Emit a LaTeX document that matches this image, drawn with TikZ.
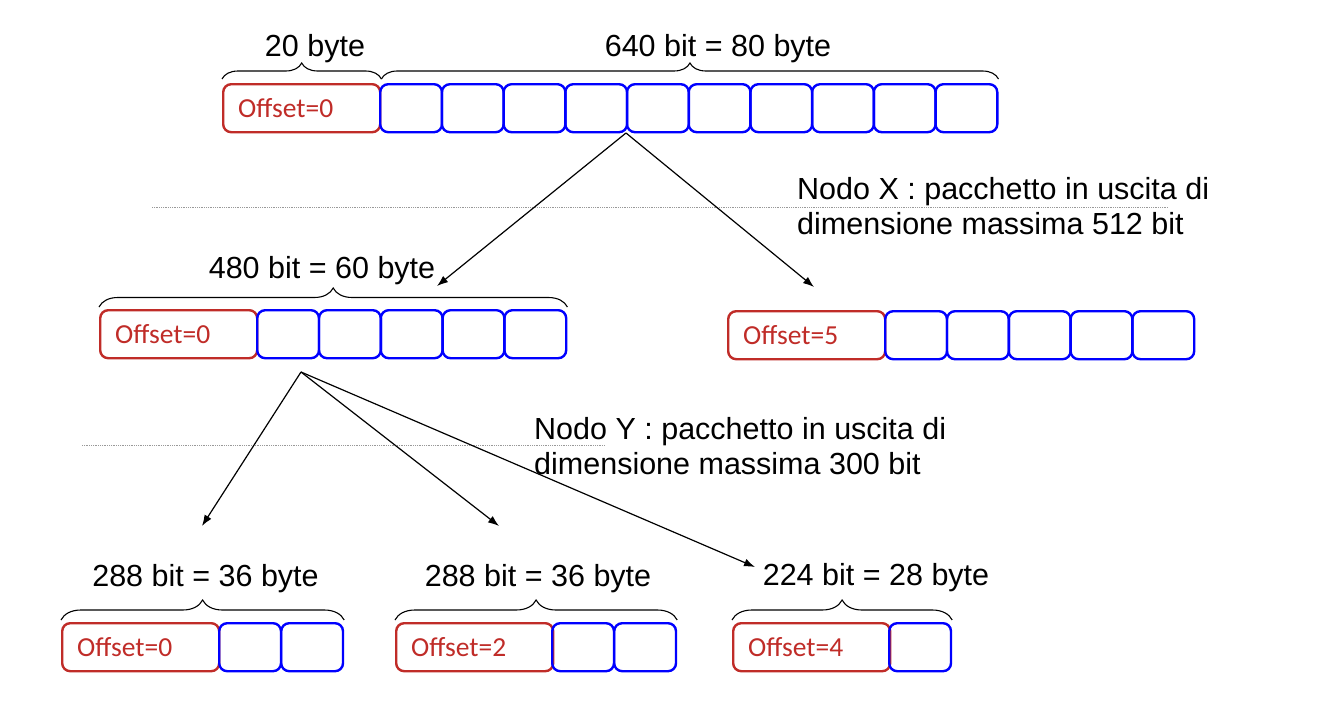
\documentclass[tikz,border=0pt]{standalone}
\usepackage{fontspec}
\setmainfont{Liberation Sans}
\newfontfamily\calib{Carlito}
\usetikzlibrary{decorations.pathreplacing,arrows.meta}
\definecolor{offred}{RGB}{192,44,40}
\definecolor{fragblue}{RGB}{0,0,255}
\tikzset{
 cell/.style={draw, line width=2.4pt, rounded corners=8pt, minimum height=48pt, inner sep=0pt, anchor=north west},
 hdr/.style={cell, draw=offred, minimum width=157pt, text width=127pt, inner xsep=15pt, align=left, text=offred, font=\calib\fontsize{27.5}{30}\selectfont},
 pay/.style={cell, draw=fragblue, minimum width=61.8pt},
 brc/.style={decorate, decoration={brace, amplitude=#1}, line width=1.1pt},
 brc/.default=18pt,
 lbl/.style={font=\fontsize{30.5}{36}\selectfont, anchor=base, inner sep=0pt},
 note/.style={font=\fontsize{30.5}{35}\selectfont, align=left, anchor=base west, inner sep=0pt},
 sep/.style={draw=gray!80, line width=0.9pt, dash pattern=on 0.9pt off 0.9pt},
 arr/.style={-{Latex[length=11pt,width=8pt]}, line width=1.2pt},
}
\begin{document}
\begin{tikzpicture}[x=1pt,y=-1pt]
\fill[white] (0,0) rectangle (1328,712);
\useasboundingbox (0,0) rectangle (1328,712);

% top packet
\node[hdr] (h0) at (222,83) {Offset=0};
\foreach \i in {1,...,10} \node[pay] (p0\i) at ({379+61.7*(\i-1)},83) {};
% middle left
\node[hdr] (h1) at (99,309) {Offset=0};
\foreach \i in {1,...,5} \node[pay] (p1\i) at ({256+61.8*(\i-1)},309) {};
% middle right
\node[hdr] (h2) at (727,310) {Offset=5};
\foreach \i in {1,...,5} \node[pay] (p2\i) at ({884+61.8*(\i-1)},310) {};
% bottom
\node[hdr] (h3) at (61,622) {Offset=0};
\foreach \i in {1,2} \node[pay] (p3\i) at ({218+62*(\i-1)},622) {};
\node[hdr] (h4) at (395,622) {Offset=2};
\foreach \i in {1,2} \node[pay] (p4\i) at ({551+62*(\i-1)},622) {};
\node[hdr] (h5) at (732,622) {Offset=4};
\node[pay] (p51) at (888,622) {};

% braces
\draw[brc=16pt] ([yshift=4pt]h0.north west) -- ([yshift=4pt]h0.north east);
\draw[brc=16pt] ([yshift=4pt]h0.north east) -- ([yshift=4pt]p010.north east);
\draw[brc=19pt] ([yshift=2pt]h1.north west) -- ([yshift=2pt]p15.north east);
\draw[brc=20pt] ([yshift=2pt]h3.north west) -- ([yshift=2pt]p32.north east);
\draw[brc=20pt] ([yshift=2pt]h4.north west) -- ([yshift=2pt]p42.north east);
\draw[brc=20pt] ([yshift=2pt]h5.north west) -- ([yshift=2pt]p51.north east);

% labels
\node[lbl] (l20) at (315,56) {20 byte};
\node[lbl] (l640) at (718,56) {640 bit = 80 byte};
\node[lbl] (l480) at (322,278) {480 bit = 60 byte};
\node[lbl] (l288a) at (205.5,586) {288 bit = 36 byte};
\node[lbl] (l288b) at (538,586) {288 bit = 36 byte};
\node[lbl] (l224) at (876,585) {224 bit = 28 byte};

% separators and notes
\draw[sep] (152,207) -- (1168,207);
\draw[sep] (82,445) -- (605,445);
\node[note] (nx) at (797,234) {Nodo X : pacchetto in uscita di\\dimensione massima 512 bit};
\node[note] (ny) at (534,474) {Nodo Y : pacchetto in uscita di\\dimensione massima 300 bit};

% arrows
\coordinate (o1) at (626,133);
\coordinate (t1) at (437,286);
\coordinate (t2) at (814,287);
\coordinate (o2) at (301,372);
\coordinate (t3) at (202,526);
\coordinate (t4) at (499,526);
\coordinate (t5) at (755,567);
\draw[arr] (o1) -- (t1);
\draw[arr] (o1) -- (t2);
\draw[arr] (o2) -- (t3);
\draw[arr] (o2) -- (t4);
\draw[arr] (o2) -- (t5);
\end{tikzpicture}
\end{document}
